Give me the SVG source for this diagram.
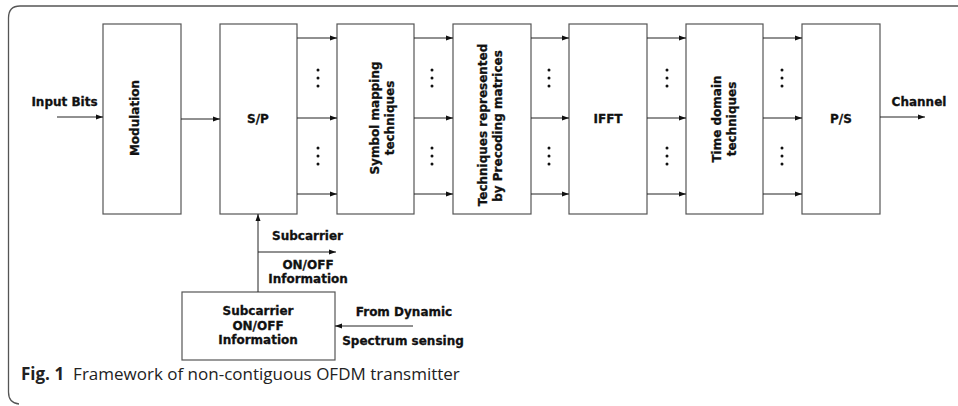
<svg xmlns="http://www.w3.org/2000/svg" width="958" height="406" viewBox="0 0 958 406">
<style>
.box{fill:#fff;stroke:#555;stroke-width:1.2}
.t{font-family:"DejaVu Sans",Verdana,sans-serif;font-weight:bold;font-size:12px;fill:#111;stroke:#111;stroke-width:0.3;text-anchor:middle}
.c{stroke:#222;stroke-width:1;fill:none}
.d{fill:#111}
.cap{font-family:"Open Sans","Noto Sans",sans-serif;font-size:17px;fill:#222}
</style>
<defs>
<marker id="ah" markerWidth="7" markerHeight="6" refX="7" refY="3" orient="auto" markerUnits="userSpaceOnUse">
<path d="M0,0.5 L7,3 L0,5.5 Z" fill="#111"/>
</marker>
</defs>
<path d="M958,6 H20 Q8.5,6 8.5,18 V392 Q8.5,403 19,404" fill="none" stroke="#555" stroke-width="1.3"/>
<g id="modulation"><rect class="box" x="103" y="24" width="78" height="190"/><text class="t" transform="translate(139,118) rotate(-90)">Modulation</text></g>
<g id="sp"><rect class="box" x="220" y="24" width="77" height="190"/><text class="t" x="258" y="123">S/P</text></g>
<g id="symbol"><rect class="box" x="337" y="24" width="77" height="190"/><text class="t" transform="translate(379,118) rotate(-90)">Symbol mapping</text><text class="t" transform="translate(394,118) rotate(-90)">techniques</text></g>
<g id="precoding"><rect class="box" x="453" y="24" width="78" height="190"/><text class="t" transform="translate(487,125) rotate(-90)">Techniques represented</text><text class="t" transform="translate(502,126) rotate(-90)">by Precoding matrices</text></g>
<g id="ifft"><rect class="box" x="569" y="24" width="78" height="190"/><text class="t" x="608" y="123">IFFT</text></g>
<g id="timedomain"><rect class="box" x="686" y="24" width="77" height="190"/><text class="t" transform="translate(721,119) rotate(-90)">Time domain</text><text class="t" transform="translate(736,119) rotate(-90)">techniques</text></g>
<g id="ps"><rect class="box" x="802" y="24" width="78" height="190"/><text class="t" x="841" y="123">P/S</text></g>
<g id="onoff"><rect class="box" x="182" y="292" width="153" height="68"/><text class="t" x="258" y="315">Subcarrier</text><text class="t" x="258" y="330">ON/OFF</text><text class="t" x="258" y="344">Information</text></g>
<g id="connectors">
<path class="c" d="M57,117 H103" marker-end="url(#ah)"/>
<path class="c" d="M181,119 H220" marker-end="url(#ah)"/>
<path class="c" d="M880,117 H925" marker-end="url(#ah)"/>
<path class="c" d="M297,38 H337" marker-end="url(#ah)"/>
<path class="c" d="M297,118 H337" marker-end="url(#ah)"/>
<path class="c" d="M297,194 H337" marker-end="url(#ah)"/>
<path class="c" d="M414,38 H453" marker-end="url(#ah)"/>
<path class="c" d="M414,118 H453" marker-end="url(#ah)"/>
<path class="c" d="M414,194 H453" marker-end="url(#ah)"/>
<path class="c" d="M531,38 H569" marker-end="url(#ah)"/>
<path class="c" d="M531,118 H569" marker-end="url(#ah)"/>
<path class="c" d="M531,194 H569" marker-end="url(#ah)"/>
<path class="c" d="M647,38 H686" marker-end="url(#ah)"/>
<path class="c" d="M647,118 H686" marker-end="url(#ah)"/>
<path class="c" d="M647,194 H686" marker-end="url(#ah)"/>
<path class="c" d="M763,38 H802" marker-end="url(#ah)"/>
<path class="c" d="M763,118 H802" marker-end="url(#ah)"/>
<path class="c" d="M763,194 H802" marker-end="url(#ah)"/>
<path class="c" d="M258,292 V214" marker-end="url(#ah)"/>
<path class="c" d="M258,252 H336" marker-end="url(#ah)"/>
<path class="c" d="M413,326 H335" marker-end="url(#ah)"/>
</g>
<g id="dots" class="d">
<circle cx="318" cy="70" r="1.5"/><circle cx="318" cy="78" r="1.5"/><circle cx="318" cy="86" r="1.5"/>
<circle cx="318" cy="148" r="1.5"/><circle cx="318" cy="156" r="1.5"/><circle cx="318" cy="164" r="1.5"/>
<circle cx="432" cy="70" r="1.5"/><circle cx="432" cy="78" r="1.5"/><circle cx="432" cy="86" r="1.5"/>
<circle cx="432" cy="148" r="1.5"/><circle cx="432" cy="156" r="1.5"/><circle cx="432" cy="164" r="1.5"/>
<circle cx="549" cy="70" r="1.5"/><circle cx="549" cy="78" r="1.5"/><circle cx="549" cy="86" r="1.5"/>
<circle cx="549" cy="148" r="1.5"/><circle cx="549" cy="156" r="1.5"/><circle cx="549" cy="164" r="1.5"/>
<circle cx="667" cy="70" r="1.5"/><circle cx="667" cy="78" r="1.5"/><circle cx="667" cy="86" r="1.5"/>
<circle cx="667" cy="148" r="1.5"/><circle cx="667" cy="156" r="1.5"/><circle cx="667" cy="164" r="1.5"/>
<circle cx="782" cy="70" r="1.5"/><circle cx="782" cy="78" r="1.5"/><circle cx="782" cy="86" r="1.5"/>
<circle cx="782" cy="148" r="1.5"/><circle cx="782" cy="156" r="1.5"/><circle cx="782" cy="164" r="1.5"/>
</g>
<g id="labels">
<text class="t" x="64.5" y="106">Input Bits</text>
<text class="t" x="919" y="106">Channel</text>
<text class="t" x="307.5" y="239.5">Subcarrier</text>
<text class="t" x="308" y="269">ON/OFF</text>
<text class="t" x="308" y="283">Information</text>
<text class="t" x="404" y="316">From Dynamic</text>
<text class="t" x="403" y="345">Spectrum sensing</text>
</g>
<text class="cap" x="21" y="380"><tspan font-weight="bold">Fig. 1</tspan><tspan dx="9">Framework of non-contiguous OFDM transmitter</tspan></text>
</svg>
